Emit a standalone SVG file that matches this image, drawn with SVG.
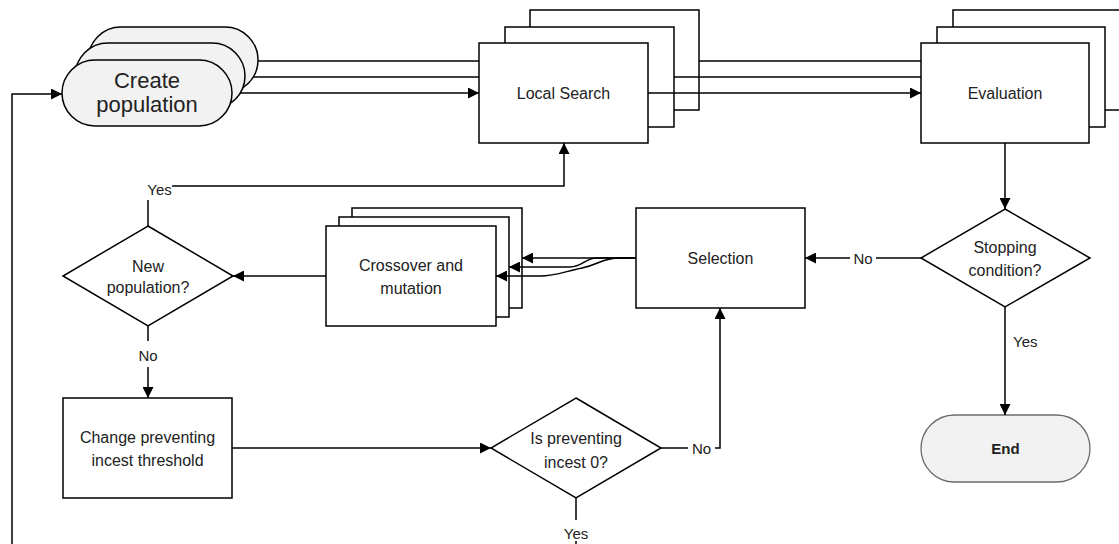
<svg xmlns="http://www.w3.org/2000/svg" width="1119" height="544" viewBox="0 0 1119 544">
  <style>
    .box { fill: #ffffff; stroke: #000; stroke-width: 1.5; }
    .pill { fill: #f2f2f2; stroke: #000; stroke-width: 1.5; }
    .endpill { fill: #f2f2f2; stroke: #6b6b6b; stroke-width: 1.3; }
    .lbl { font-family: "Liberation Sans", Arial, sans-serif; font-size: 16px; fill: #222; text-anchor: middle; }
    .big { font-size: 22px; }
    .edge { font-family: "Liberation Sans", Arial, sans-serif; font-size: 15px; fill: #222; text-anchor: middle; }
    .conn { fill: none; stroke: #000; stroke-width: 1.5; }
    .arr { marker-end: url(#head); }
  </style>
  <defs>
    <marker id="head" viewBox="0 0 10 10" refX="10" refY="5" markerWidth="11" markerHeight="11" markerUnits="userSpaceOnUse" orient="auto">
      <path d="M0,0 L10,5 L0,10 z" fill="#000"/>
    </marker>
  </defs>
  <rect width="1119" height="544" fill="#fff"/>

  <!-- Create population (stacked terminators) -->
  <g id="create-population">
    <rect class="pill" x="88" y="27" width="170" height="66" rx="33"/>
    <rect class="pill" x="75" y="43" width="170" height="66" rx="33"/>
    <rect class="pill" x="62" y="60" width="170" height="66" rx="33"/>
    <text class="lbl big" x="147" y="88">Create</text>
    <text class="lbl big" x="147" y="112">population</text>
  </g>

  <!-- Local Search (stacked processes) -->
  <g id="local-search">
    <rect class="box" x="530" y="10" width="169" height="100"/>
    <rect class="box" x="505" y="27" width="169" height="100"/>
    <rect class="box" x="479" y="43" width="169" height="100"/>
    <text class="lbl" x="563.5" y="99">Local Search</text>
  </g>

  <!-- Evaluation (stacked processes) -->
  <g id="evaluation">
    <rect class="box" x="953" y="10" width="170" height="100"/>
    <rect class="box" x="937" y="27" width="168" height="100"/>
    <rect class="box" x="921" y="43" width="168" height="100"/>
    <text class="lbl" x="1005" y="99">Evaluation</text>
  </g>

  <!-- Stopping condition? -->
  <g id="stopping-condition">
    <polygon class="box" points="1005,209 1090,258 1005,307 921,258"/>
    <text class="lbl" x="1005" y="252.5">Stopping</text>
    <text class="lbl" x="1005" y="276">condition?</text>
  </g>

  <!-- Selection -->
  <g id="selection">
    <rect class="box" x="636" y="208" width="169" height="100"/>
    <text class="lbl" x="720.5" y="264">Selection</text>
  </g>

  <!-- Crossover and mutation (stacked processes) -->
  <g id="crossover-mutation">
    <rect class="box" x="352" y="208" width="170" height="100"/>
    <rect class="box" x="339" y="217" width="170" height="100"/>
    <rect class="box" x="326" y="226" width="170" height="100"/>
    <text class="lbl" x="411" y="271">Crossover and</text>
    <text class="lbl" x="411" y="294">mutation</text>
  </g>

  <!-- New population? -->
  <g id="new-population">
    <polygon class="box" points="148,226 233,276 148,326 63,276"/>
    <text class="lbl" x="148" y="271.5">New</text>
    <text class="lbl" x="148" y="293">population?</text>
  </g>

  <!-- Change preventing incest threshold -->
  <g id="change-threshold">
    <rect class="box" x="63" y="398" width="169" height="100"/>
    <text class="lbl" x="147.5" y="443">Change preventing</text>
    <text class="lbl" x="147.5" y="466">incest threshold</text>
  </g>

  <!-- Is preventing incest 0? -->
  <g id="incest-zero">
    <polygon class="box" points="576,398 661,448 576,498 491,448"/>
    <text class="lbl" x="576" y="444">Is preventing</text>
    <text class="lbl" x="576" y="468">incest 0?</text>
  </g>

  <!-- End -->
  <g id="end">
    <rect class="endpill" x="921" y="415" width="169" height="67" rx="33.5"/>
    <text class="lbl" x="1005.5" y="454" font-weight="bold" style="font-size:15px">End</text>
  </g>

  <!-- Connectors -->
  <g id="connectors">
    <!-- Create population to Local Search -->
    <line class="conn" x1="258" y1="61" x2="479" y2="61"/>
    <line class="conn" x1="253" y1="77" x2="479" y2="77"/>
    <line class="conn arr" x1="240" y1="93" x2="479" y2="93"/>

    <!-- Local Search to Evaluation -->
    <line class="conn" x1="699" y1="61" x2="921" y2="61"/>
    <line class="conn" x1="674" y1="77" x2="921" y2="77"/>
    <line class="conn arr" x1="648" y1="93" x2="921" y2="93"/>

    <!-- Evaluation to Stopping condition -->
    <line class="conn arr" x1="1005" y1="143" x2="1005" y2="209"/>

    <!-- Stopping condition: No to Selection -->
    <line class="conn" x1="921" y1="258" x2="876" y2="258"/>
    <line class="conn arr" x1="850" y1="258" x2="805" y2="258"/>
    <text class="edge" x="863" y="263.5">No</text>

    <!-- Stopping condition: Yes to End -->
    <line class="conn arr" x1="1005" y1="307" x2="1005" y2="415"/>
    <text class="edge" x="1013" y="347" style="text-anchor:start">Yes</text>

    <!-- Selection to Crossover and mutation -->
    <line class="conn arr" x1="636" y1="258" x2="522" y2="258"/>
    <path class="conn arr" d="M636,258 L596,258 C586,258 582,267 570,267 L509,267"/>
    <path class="conn arr" d="M636,258 L620,258 C602,258 598,265 582,268 C566,271 556,276 540,276 L496,276"/>

    <!-- Crossover and mutation to New population? -->
    <line class="conn arr" x1="326" y1="276" x2="233" y2="276"/>

    <!-- New population?: Yes back to Local Search -->
    <line class="conn" x1="148" y1="226" x2="148" y2="200"/>
    <path class="conn arr" d="M172,186 L564,186 L564,143"/>
    <text class="edge" x="159.5" y="195">Yes</text>

    <!-- New population?: No to Change threshold -->
    <line class="conn" x1="148" y1="326" x2="148" y2="341"/>
    <line class="conn arr" x1="148" y1="367" x2="148" y2="398"/>
    <text class="edge" x="148" y="360.5">No</text>

    <!-- Change threshold to Is preventing incest 0? -->
    <line class="conn arr" x1="232" y1="448" x2="491" y2="448"/>

    <!-- Is preventing incest 0?: No to Selection -->
    <line class="conn" x1="661" y1="448" x2="688" y2="448"/>
    <path class="conn arr" d="M715,448 L720,448 L720,308"/>
    <text class="edge" x="701.5" y="453.5">No</text>

    <!-- Is preventing incest 0?: Yes back to Create population -->
    <line class="conn" x1="576" y1="498" x2="576" y2="520"/>
    <path class="conn arr" d="M576,541 L576,560 L12,560 L12,94 L62,94"/>
    <text class="edge" x="576" y="538.5">Yes</text>
  </g>
</svg>
